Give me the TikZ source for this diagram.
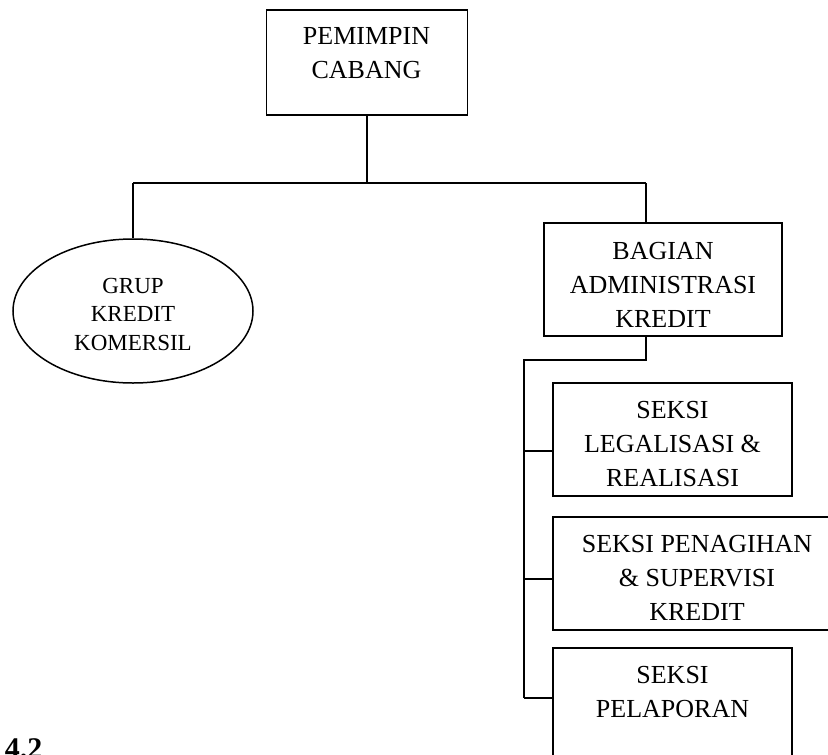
\documentclass[tikz,border=0pt]{standalone}
\usepackage{fontspec}
\setmainfont{Liberation Serif}
\usetikzlibrary{shapes.geometric}
\begin{document}
\begin{tikzpicture}[x=1pt,y=-1pt,line width=1.8pt,
  boxshape/.style={draw,rectangle,inner sep=0pt,line width=1.8pt},
  txt/.style={inner sep=0pt,align=center,anchor=base,font=\fontsize{26}{34}\selectfont},
  smalltxt/.style={inner sep=0pt,align=center,anchor=base,font=\fontsize{23}{28.5}\selectfont},
  conn/.style={draw,line width=1.8pt}]
\clip (0,0) rectangle (828,755);
\useasboundingbox (0,0) rectangle (828,755);
% boxes
\node[boxshape,minimum width=201pt,minimum height=105pt] (pem) at (367,62.5) {};
\node[draw,ellipse,inner sep=0pt,line width=1.5pt,minimum width=240pt,minimum height=144pt] (grup) at (133,311) {};
\node[boxshape,minimum width=238pt,minimum height=113pt] (bag) at (663,279.5) {};
\node[boxshape,minimum width=239pt,minimum height=113pt] (s1) at (672.5,439.5) {};
\node[boxshape,minimum width=288pt,minimum height=113pt] (s2) at (697,573.5) {};
\node[boxshape,minimum width=239pt,minimum height=132pt] (s3) at (672.5,714) {};
% texts (anchor = baseline of the last line)
\node[txt] (pemT) at (366.5,78) {PEMIMPIN\\CABANG};
\node[smalltxt] (grupT) at (133,350) {GRUP\\KREDIT\\KOMERSIL};
\node[txt] (bagT) at (663,327) {BAGIAN\\ADMINISTRASI\\KREDIT};
\node[txt] (s1T) at (672.5,486) {SEKSI\\LEGALISASI \&\\REALISASI};
\node[txt] (s2T) at (697,620) {SEKSI PENAGIHAN\\\& SUPERVISI\\KREDIT};
\node[txt] (s3T) at (672.5,717) {SEKSI\\PELAPORAN};
\node[inner sep=0pt,anchor=base west,font=\bfseries\fontsize{30}{34}\selectfont] (num) at (4,758) {4.2};
% connectors
\coordinate (j1) at (367,183);
\coordinate (jL) at (133,183);
\coordinate (jR) at (646,183);
\draw[conn] (pem.south) -- (j1);
\draw[conn] (jL) -- (jR);
\draw[conn] (jL) -- (grup.north);
\draw[conn] (jR) -- (jR |- bag.north);
\coordinate (b1) at (646,360);
\coordinate (sp) at (524,360);
\coordinate (br1) at (524,451);
\coordinate (br2) at (524,579);
\coordinate (br3) at (524,698);
\draw[conn] (b1 |- bag.south) -- (b1) -- (sp) -- (br3);
\draw[conn] (br1) -- (br1 -| s1.west);
\draw[conn] (br2) -- (br2 -| s2.west);
\draw[conn] (br3) -- (br3 -| s3.west);
\end{tikzpicture}
\end{document}
